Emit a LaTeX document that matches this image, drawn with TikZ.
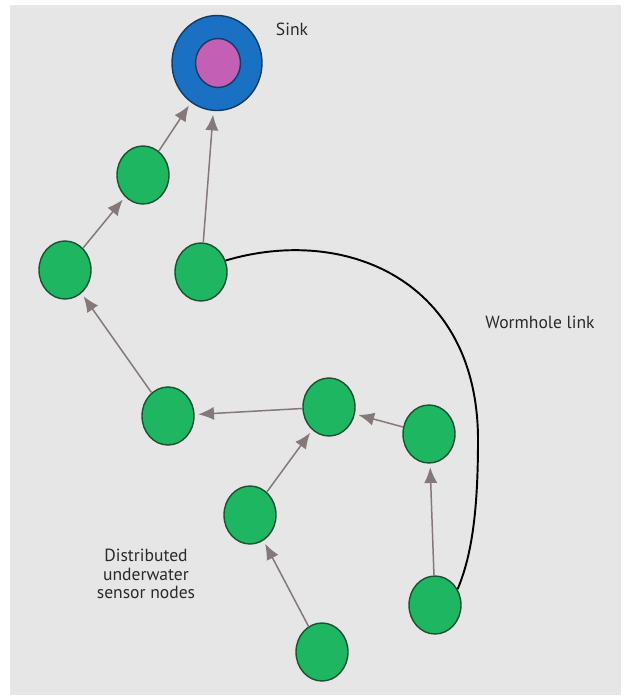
\documentclass[tikz,border=0pt]{standalone}
\usepackage{fontspec}
\setmainfont{PT Sans}
\usetikzlibrary{shapes.geometric,arrows.meta}
\definecolor{panelgray}{HTML}{E6E6E6}
\definecolor{sensorgreen}{HTML}{1FB662}
\definecolor{sensoredge}{HTML}{1D4F33}
\definecolor{sinkblue}{HTML}{1A70C2}
\definecolor{sinkedge}{HTML}{153A63}
\definecolor{sinkpink}{HTML}{C35FB4}
\definecolor{linkgray}{HTML}{857878}
\definecolor{textgray}{HTML}{2A2A2A}

\begin{document}
\begin{tikzpicture}[
    x=0.02cm, y=-0.02cm,
    every node/.style={font=\fontsize{10}{12}\selectfont, text=textgray},
    sensor/.style={
        ellipse,
        draw=sensoredge,
        thick,
        fill=sensorgreen,
        minimum width=1.04cm,
        minimum height=1.16cm,
        inner sep=0pt
    },
    sinkouter/.style={
        ellipse,
        draw=sinkedge,
        thick,
        fill=sinkblue,
        minimum width=1.8cm,
        minimum height=1.9cm,
        inner sep=0pt
    },
    sinkinner/.style={
        ellipse,
        draw=sinkedge,
        thick,
        fill=sinkpink,
        minimum width=0.9cm,
        minimum height=0.98cm,
        inner sep=0pt
    },
    hop/.style={-{Latex[length=9pt,width=7.5pt]}, line width=0.85pt, linkgray, shorten >=2pt},
    wormhole/.style={line width=1.1pt, black}
]

\useasboundingbox (0,0) rectangle (623,699);
\fill[panelgray] (10,5) rectangle (621,695);

\node[sinkouter] (sink) at (217,63) {};
\node[sinkinner] (sinkcore) at (218,63) {};
\node (sinklabel) at (292,29) {Sink};

\node[sensor] (n1) at (143,175) {};
\node[sensor] (n2) at (65,270) {};
\node[sensor] (n3) at (201,272) {};
\node[sensor] (n4) at (168,416) {};
\node[sensor] (n5) at (329,407) {};
\node[sensor] (n6) at (429,434) {};
\node[sensor] (n7) at (250,515) {};
\node[sensor] (n8) at (435,605) {};
\node[sensor] (n9) at (322,652) {};

\draw[hop] (n1) -- (sink);
\draw[hop] (n3) -- (sink);
\draw[hop] (n2) -- (n1);
\draw[hop] (n4) -- (n2);
\draw[hop] (n5) -- (n4);
\draw[hop] (n6) -- (n5);
\draw[hop] (n7) -- (n5);
\draw[hop] (n8) -- (n6);
\draw[hop] (n9) -- (n7);

\coordinate (wormturn) at (478,440);
\draw[wormhole] (n3.25) .. controls (345,225) and (478,280) .. (wormturn)
    .. controls (478,510) and (472,555) .. (n8.35);

\node (wormlabel) at (540,322) {Wormhole link};
\node[align=center, font=\fontsize{10}{10.5}\selectfont] (sensorlabel) at (146,574) {Distributed\\underwater\\sensor nodes};

\end{tikzpicture}
\end{document}
